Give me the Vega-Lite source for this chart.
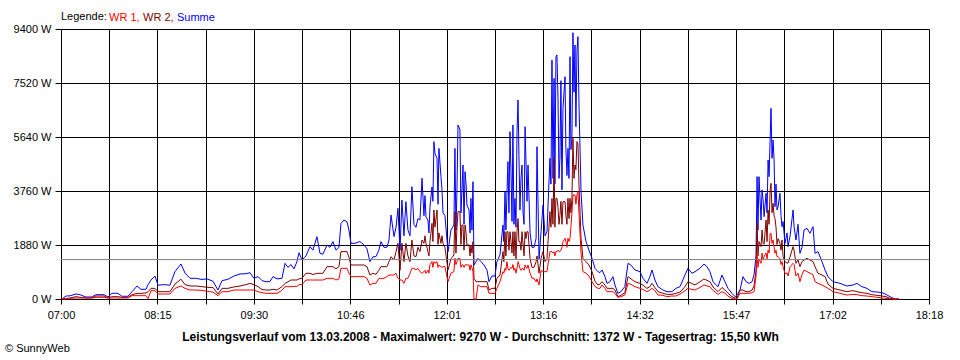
{
"$schema":"https://vega.github.io/schema/vega-lite/v6.json",
"width":868,"height":270,
"autosize":"none",
"padding":{"left":61,"top":29,"right":31,"bottom":61},
"background":"#ffffff",
"title":{"text":"© SunnyWeb","orient":"bottom","anchor":"start","frame":"group","dx":-56,"offset":1,"fontSize":11,"fontWeight":"normal","font":"Liberation Sans","color":"#000000"},
"config":{"view":{"stroke":null},"font":"Liberation Sans"},
"layer":[
{
"data":{"values":[
{"t":0.8,"Summe":0,"WR 2":0,"WR 1":0},
{"t":3.9,"Summe":104,"WR 2":12,"WR 1":0},
{"t":7.0,"Summe":110,"WR 2":35,"WR 1":23},
{"t":11.7,"Summe":174,"WR 2":81,"WR 1":35},
{"t":14.8,"Summe":150,"WR 2":58,"WR 1":35},
{"t":19.5,"Summe":70,"WR 2":35,"WR 1":35},
{"t":24.2,"Summe":70,"WR 2":35,"WR 1":35},
{"t":27.3,"Summe":150,"WR 2":104,"WR 1":58},
{"t":33.6,"Summe":150,"WR 2":104,"WR 1":58},
{"t":36.7,"Summe":70,"WR 2":35,"WR 1":35},
{"t":39.8,"Summe":200,"WR 2":81,"WR 1":35},
{"t":44.5,"Summe":197,"WR 2":81,"WR 1":35},
{"t":47.6,"Summe":95,"WR 2":58,"WR 1":35},
{"t":52.3,"Summe":95,"WR 2":58,"WR 1":35},
{"t":55.5,"Summe":255,"WR 2":150,"WR 1":116},
{"t":59.4,"Summe":450,"WR 2":197,"WR 1":116},
{"t":62.5,"Summe":337,"WR 2":197,"WR 1":116},
{"t":66.4,"Summe":337,"WR 2":210,"WR 1":116},
{"t":68.0,"Summe":500,"WR 2":250,"WR 1":12},
{"t":70.3,"Summe":660,"WR 2":371,"WR 1":290},
{"t":73.4,"Summe":800,"WR 2":371,"WR 1":290},
{"t":75.8,"Summe":480,"WR 2":255,"WR 1":174},
{"t":80.4,"Summe":500,"WR 2":255,"WR 1":174},
{"t":85.1,"Summe":480,"WR 2":255,"WR 1":174},
{"t":89.0,"Summe":950,"WR 2":520,"WR 1":371},
{"t":93.7,"Summe":1220,"WR 2":690,"WR 1":453},
{"t":96.9,"Summe":900,"WR 2":500,"WR 1":370},
{"t":100.8,"Summe":720,"WR 2":453,"WR 1":313},
{"t":105.4,"Summe":720,"WR 2":453,"WR 1":313},
{"t":110.1,"Summe":680,"WR 2":430,"WR 1":300},
{"t":114.0,"Summe":700,"WR 2":406,"WR 1":267},
{"t":118.7,"Summe":620,"WR 2":400,"WR 1":240},
{"t":122.6,"Summe":313,"WR 2":174,"WR 1":116},
{"t":125.8,"Summe":640,"WR 2":371,"WR 1":255},
{"t":130.4,"Summe":685,"WR 2":371,"WR 1":255},
{"t":135.1,"Summe":800,"WR 2":420,"WR 1":313},
{"t":139.8,"Summe":870,"WR 2":453,"WR 1":313},
{"t":144.5,"Summe":880,"WR 2":500,"WR 1":313},
{"t":147.6,"Summe":917,"WR 2":545,"WR 1":313},
{"t":150.7,"Summe":720,"WR 2":500,"WR 1":313},
{"t":153.9,"Summe":780,"WR 2":430,"WR 1":255},
{"t":157.0,"Summe":640,"WR 2":330,"WR 1":220},
{"t":160.1,"Summe":600,"WR 2":313,"WR 1":197},
{"t":163.2,"Summe":610,"WR 2":313,"WR 1":197},
{"t":165.6,"Summe":780,"WR 2":340,"WR 1":197},
{"t":168.7,"Summe":700,"WR 2":313,"WR 1":197},
{"t":172.6,"Summe":720,"WR 2":430,"WR 1":300},
{"t":175.0,"Summe":1240,"WR 2":545,"WR 1":430},
{"t":177.3,"Summe":1100,"WR 2":600,"WR 1":430},
{"t":179.6,"Summe":1200,"WR 2":661,"WR 1":430},
{"t":182.0,"Summe":1050,"WR 2":661,"WR 1":440},
{"t":184.3,"Summe":1300,"WR 2":661,"WR 1":440},
{"t":185.9,"Summe":1610,"WR 2":700,"WR 1":500},
{"t":188.2,"Summe":1358,"WR 2":720,"WR 1":500},
{"t":191.3,"Summe":1500,"WR 2":894,"WR 1":661},
{"t":194.5,"Summe":1822,"WR 2":894,"WR 1":661},
{"t":196.8,"Summe":1700,"WR 2":850,"WR 1":661},
{"t":199.9,"Summe":2170,"WR 2":894,"WR 1":661},
{"t":202.3,"Summe":1590,"WR 2":894,"WR 1":661},
{"t":204.6,"Summe":1560,"WR 2":894,"WR 1":661},
{"t":207.8,"Summe":1880,"WR 2":1126,"WR 1":720},
{"t":210.1,"Summe":1800,"WR 2":1126,"WR 1":720},
{"t":212.4,"Summe":2000,"WR 2":1126,"WR 1":720},
{"t":214.8,"Summe":1700,"WR 2":1050,"WR 1":661},
{"t":217.1,"Summe":1800,"WR 2":1126,"WR 1":700},
{"t":218.7,"Summe":2630,"WR 2":1650,"WR 1":1068},
{"t":221.0,"Summe":2750,"WR 2":1650,"WR 1":1068},
{"t":223.4,"Summe":2690,"WR 2":1650,"WR 1":1068},
{"t":224.9,"Summe":2402,"WR 2":1450,"WR 1":900},
{"t":226.5,"Summe":1938,"WR 2":1184,"WR 1":778},
{"t":229.6,"Summe":1938,"WR 2":1184,"WR 1":778},
{"t":233.5,"Summe":2000,"WR 2":1184,"WR 1":778},
{"t":236.7,"Summe":1880,"WR 2":1184,"WR 1":778},
{"t":239.0,"Summe":1750,"WR 2":1126,"WR 1":720},
{"t":241.3,"Summe":1300,"WR 2":836,"WR 1":487},
{"t":243.7,"Summe":1470,"WR 2":894,"WR 1":545},
{"t":246.0,"Summe":1474,"WR 2":860,"WR 1":545},
{"t":248.3,"Summe":1700,"WR 2":1000,"WR 1":720},
{"t":249.9,"Summe":1996,"WR 2":1126,"WR 1":720},
{"t":252.3,"Summe":1800,"WR 2":1126,"WR 1":720},
{"t":254.6,"Summe":1800,"WR 2":1126,"WR 1":778},
{"t":256.2,"Summe":2054,"WR 2":1300,"WR 1":836},
{"t":257.8,"Summe":2924,"WR 2":1474,"WR 1":836},
{"t":260.1,"Summe":2170,"WR 2":1358,"WR 1":836},
{"t":261.7,"Summe":2500,"WR 2":1650,"WR 1":900},
{"t":263.2,"Summe":3156,"WR 2":1938,"WR 1":720},
{"t":264.8,"Summe":1700,"WR 2":1000,"WR 1":661},
{"t":266.3,"Summe":3447,"WR 2":1938,"WR 1":661},
{"t":267.9,"Summe":2200,"WR 2":1300,"WR 1":545},
{"t":269.4,"Summe":3389,"WR 2":1938,"WR 1":720},
{"t":271.0,"Summe":2400,"WR 2":1500,"WR 1":720},
{"t":272.6,"Summe":2200,"WR 2":1300,"WR 1":890},
{"t":274.1,"Summe":3911,"WR 2":2054,"WR 1":1068},
{"t":275.7,"Summe":2600,"WR 2":1500,"WR 1":1068},
{"t":277.3,"Summe":2500,"WR 2":1474,"WR 1":1010},
{"t":278.8,"Summe":2800,"WR 2":1800,"WR 1":1068},
{"t":280.4,"Summe":2750,"WR 2":1650,"WR 1":950},
{"t":282.0,"Summe":4201,"WR 2":2054,"WR 1":894},
{"t":283.5,"Summe":2900,"WR 2":1938,"WR 1":950},
{"t":284.3,"Summe":3600,"WR 2":2200,"WR 1":1000},
{"t":285.1,"Summe":2850,"WR 2":1938,"WR 1":894},
{"t":286.6,"Summe":2750,"WR 2":1650,"WR 1":1010},
{"t":287.4,"Summe":2300,"WR 2":1500,"WR 1":900},
{"t":288.2,"Summe":3200,"WR 2":2000,"WR 1":1200},
{"t":289.8,"Summe":3900,"WR 2":2634,"WR 1":1300},
{"t":290.5,"Summe":3400,"WR 2":2000,"WR 1":1100},
{"t":291.3,"Summe":5478,"WR 2":3098,"WR 1":1300},
{"t":292.1,"Summe":5071,"WR 2":2500,"WR 1":1242},
{"t":293.7,"Summe":4897,"WR 2":3098,"WR 1":1300},
{"t":294.5,"Summe":3300,"WR 2":1900,"WR 1":1100},
{"t":295.2,"Summe":5245,"WR 2":2300,"WR 1":1184},
{"t":296.8,"Summe":4259,"WR 2":1938,"WR 1":1126},
{"t":297.6,"Summe":3800,"WR 2":2200,"WR 1":1100},
{"t":298.4,"Summe":3000,"WR 2":1938,"WR 1":1126},
{"t":299.9,"Summe":2900,"WR 2":1800,"WR 1":1126},
{"t":302.3,"Summe":1648,"WR 2":1010,"WR 1":603},
{"t":304.6,"Summe":2400,"WR 2":1400,"WR 1":900},
{"t":306.9,"Summe":2576,"WR 2":1532,"WR 1":952},
{"t":307.7,"Summe":5245,"WR 2":3041,"WR 1":1416},
{"t":308.5,"Summe":2400,"WR 2":1600,"WR 1":1200},
{"t":309.3,"Summe":3800,"WR 2":2500,"WR 1":1300},
{"t":310.1,"Summe":6058,"WR 2":3041,"WR 1":1416},
{"t":311.6,"Summe":5900,"WR 2":3041,"WR 1":1416},
{"t":312.4,"Summe":3000,"WR 2":1900,"WR 1":1100},
{"t":313.2,"Summe":3800,"WR 2":2576,"WR 1":1184},
{"t":314.0,"Summe":4665,"WR 2":2576,"WR 1":1184},
{"t":314.8,"Summe":2600,"WR 2":1700,"WR 1":1100},
{"t":315.6,"Summe":4433,"WR 2":2576,"WR 1":1184},
{"t":316.4,"Summe":4000,"WR 2":2300,"WR 1":1200},
{"t":317.1,"Summe":3273,"WR 2":1880,"WR 1":1184},
{"t":318.7,"Summe":3100,"WR 2":1880,"WR 1":1184},
{"t":319.5,"Summe":2300,"WR 2":1500,"WR 1":1000},
{"t":320.2,"Summe":3505,"WR 2":1880,"WR 1":1184},
{"t":321.0,"Summe":2400,"WR 2":1600,"WR 1":1100},
{"t":321.8,"Summe":4085,"WR 2":1996,"WR 1":952},
{"t":322.6,"Summe":1184,"WR 2":720,"WR 1":0},
{"t":324.2,"Summe":1300,"WR 2":603,"WR 1":0},
{"t":325.7,"Summe":1416,"WR 2":603,"WR 1":487},
{"t":328.1,"Summe":1300,"WR 2":603,"WR 1":429},
{"t":330.4,"Summe":1184,"WR 2":603,"WR 1":429},
{"t":332.8,"Summe":1000,"WR 2":603,"WR 1":429},
{"t":334.3,"Summe":603,"WR 2":313,"WR 1":197},
{"t":336.6,"Summe":800,"WR 2":371,"WR 1":197},
{"t":339.0,"Summe":800,"WR 2":371,"WR 1":197},
{"t":340.5,"Summe":1300,"WR 2":720,"WR 1":371},
{"t":342.9,"Summe":1532,"WR 2":836,"WR 1":603},
{"t":345.2,"Summe":2576,"WR 2":1648,"WR 1":952},
{"t":345.9,"Summe":2000,"WR 2":1300,"WR 1":900},
{"t":346.8,"Summe":3737,"WR 2":2344,"WR 1":1068},
{"t":347.5,"Summe":2400,"WR 2":1500,"WR 1":1000},
{"t":348.3,"Summe":3600,"WR 2":2344,"WR 1":1300},
{"t":349.1,"Summe":4781,"WR 2":2344,"WR 1":1068},
{"t":349.9,"Summe":3000,"WR 2":1700,"WR 1":1000},
{"t":350.7,"Summe":5826,"WR 2":2344,"WR 1":1068},
{"t":351.5,"Summe":4400,"WR 2":2000,"WR 1":1100},
{"t":352.3,"Summe":2700,"WR 2":1600,"WR 1":1068},
{"t":353.0,"Summe":6058,"WR 2":2344,"WR 1":1200},
{"t":353.8,"Summe":2600,"WR 2":1500,"WR 1":1000},
{"t":354.6,"Summe":3500,"WR 2":2344,"WR 1":1068},
{"t":355.4,"Summe":2500,"WR 2":1400,"WR 1":900},
{"t":356.2,"Summe":5826,"WR 2":2344,"WR 1":1068},
{"t":357.0,"Summe":6928,"WR 2":2800,"WR 1":1300},
{"t":357.7,"Summe":5000,"WR 2":2000,"WR 1":1200},
{"t":358.5,"Summe":3100,"WR 2":2000,"WR 1":1068},
{"t":359.3,"Summe":4200,"WR 2":1700,"WR 1":1000},
{"t":360.1,"Summe":4665,"WR 2":2344,"WR 1":1068},
{"t":360.9,"Summe":3000,"WR 2":1900,"WR 1":1068},
{"t":361.7,"Summe":2600,"WR 2":1500,"WR 1":1000},
{"t":362.5,"Summe":6000,"WR 2":2344,"WR 1":1184},
{"t":363.2,"Summe":4800,"WR 2":2100,"WR 1":1100},
{"t":364.0,"Summe":3400,"WR 2":2344,"WR 1":1068},
{"t":364.8,"Summe":4665,"WR 2":2344,"WR 1":1184},
{"t":366.4,"Summe":2300,"WR 2":1416,"WR 1":900},
{"t":367.9,"Summe":1800,"WR 2":1100,"WR 1":720},
{"t":369.5,"Summe":1800,"WR 2":1100,"WR 1":720},
{"t":371.1,"Summe":2112,"WR 2":1300,"WR 1":600},
{"t":371.8,"Summe":5303,"WR 2":1500,"WR 1":700},
{"t":373.4,"Summe":1400,"WR 2":900,"WR 1":487},
{"t":375.0,"Summe":2344,"WR 2":1416,"WR 1":1000},
{"t":376.5,"Summe":3273,"WR 2":1648,"WR 1":952},
{"t":378.1,"Summe":2200,"WR 2":1300,"WR 1":952},
{"t":379.6,"Summe":2344,"WR 2":1416,"WR 1":952},
{"t":381.9,"Summe":4897,"WR 2":3041,"WR 1":1648},
{"t":382.7,"Summe":4000,"WR 2":2500,"WR 1":1648},
{"t":383.5,"Summe":8321,"WR 2":3500,"WR 1":1648},
{"t":384.3,"Summe":4200,"WR 2":2600,"WR 1":1600},
{"t":385.1,"Summe":7683,"WR 2":4897,"WR 1":1648},
{"t":385.8,"Summe":4000,"WR 2":2500,"WR 1":1500},
{"t":386.6,"Summe":8437,"WR 2":3505,"WR 1":1648},
{"t":387.4,"Summe":8495,"WR 2":3505,"WR 1":1648},
{"t":388.2,"Summe":7000,"WR 2":3200,"WR 1":1700},
{"t":389.0,"Summe":4200,"WR 2":2600,"WR 1":1648},
{"t":389.7,"Summe":4897,"WR 2":2900,"WR 1":1648},
{"t":390.5,"Summe":7600,"WR 2":3400,"WR 1":1700},
{"t":391.3,"Summe":3800,"WR 2":2600,"WR 1":1800},
{"t":392.1,"Summe":6638,"WR 2":3389,"WR 1":2000},
{"t":393.7,"Summe":7740,"WR 2":3389,"WR 1":2112},
{"t":394.4,"Summe":5200,"WR 2":2900,"WR 1":2000},
{"t":395.2,"Summe":4300,"WR 2":2600,"WR 1":1800},
{"t":396.0,"Summe":5245,"WR 2":3505,"WR 1":2112},
{"t":396.8,"Summe":4200,"WR 2":2800,"WR 1":2000},
{"t":397.6,"Summe":8437,"WR 2":3505,"WR 1":2112},
{"t":398.3,"Summe":5200,"WR 2":3000,"WR 1":2500},
{"t":399.1,"Summe":5600,"WR 2":3505,"WR 1":3000},
{"t":399.9,"Summe":9270,"WR 2":5594,"WR 1":3621},
{"t":400.7,"Summe":7200,"WR 2":4200,"WR 1":3621},
{"t":401.5,"Summe":8843,"WR 2":4665,"WR 1":3621},
{"t":402.2,"Summe":6000,"WR 2":4500,"WR 1":3300},
{"t":403.0,"Summe":8611,"WR 2":5478,"WR 1":3621},
{"t":403.8,"Summe":9133,"WR 2":5400,"WR 1":3737},
{"t":404.6,"Summe":6800,"WR 2":4000,"WR 1":3000},
{"t":406.2,"Summe":3737,"WR 2":2112,"WR 1":1600},
{"t":407.7,"Summe":2576,"WR 2":1416,"WR 1":952},
{"t":410.1,"Summe":1996,"WR 2":1300,"WR 1":900},
{"t":412.4,"Summe":1700,"WR 2":1184,"WR 1":800},
{"t":414.8,"Summe":1416,"WR 2":952,"WR 1":603},
{"t":417.1,"Summe":1068,"WR 2":620,"WR 1":440},
{"t":419.4,"Summe":952,"WR 2":487,"WR 1":371},
{"t":421.0,"Summe":920,"WR 2":520,"WR 1":371},
{"t":422.6,"Summe":1010,"WR 2":603,"WR 1":487},
{"t":424.9,"Summe":778,"WR 2":487,"WR 1":371},
{"t":426.5,"Summe":545,"WR 2":371,"WR 1":255},
{"t":428.8,"Summe":603,"WR 2":371,"WR 1":255},
{"t":431.1,"Summe":778,"WR 2":371,"WR 1":255},
{"t":432.7,"Summe":487,"WR 2":313,"WR 1":200},
{"t":435.0,"Summe":197,"WR 2":81,"WR 1":58},
{"t":437.3,"Summe":255,"WR 2":128,"WR 1":81},
{"t":440.4,"Summe":429,"WR 2":220,"WR 1":139},
{"t":442.9,"Summe":1242,"WR 2":778,"WR 1":545},
{"t":445.2,"Summe":1180,"WR 2":700,"WR 1":510},
{"t":448.3,"Summe":1010,"WR 2":603,"WR 1":429},
{"t":452.2,"Summe":952,"WR 2":545,"WR 1":371},
{"t":454.6,"Summe":720,"WR 2":480,"WR 1":330},
{"t":457.7,"Summe":545,"WR 2":371,"WR 1":255},
{"t":460.0,"Summe":778,"WR 2":430,"WR 1":313},
{"t":461.6,"Summe":1010,"WR 2":545,"WR 1":371},
{"t":463.9,"Summe":661,"WR 2":400,"WR 1":290},
{"t":466.3,"Summe":429,"WR 2":255,"WR 1":139},
{"t":470.2,"Summe":313,"WR 2":200,"WR 1":128},
{"t":473.3,"Summe":255,"WR 2":162,"WR 1":81},
{"t":477.2,"Summe":255,"WR 2":162,"WR 1":104},
{"t":480.3,"Summe":371,"WR 2":197,"WR 1":104},
{"t":483.5,"Summe":429,"WR 2":240,"WR 1":170},
{"t":487.4,"Summe":836,"WR 2":429,"WR 1":290},
{"t":489.7,"Summe":1068,"WR 2":603,"WR 1":371},
{"t":492.8,"Summe":894,"WR 2":540,"WR 1":330},
{"t":495.2,"Summe":952,"WR 2":487,"WR 1":313},
{"t":499.1,"Summe":1068,"WR 2":600,"WR 1":400},
{"t":502.2,"Summe":1219,"WR 2":696,"WR 1":487},
{"t":504.6,"Summe":1126,"WR 2":650,"WR 1":453},
{"t":506.9,"Summe":952,"WR 2":603,"WR 1":429},
{"t":509.3,"Summe":600,"WR 2":420,"WR 1":300},
{"t":513.2,"Summe":430,"WR 2":255,"WR 1":162},
{"t":516.3,"Summe":836,"WR 2":400,"WR 1":255},
{"t":518.6,"Summe":603,"WR 2":313,"WR 1":200},
{"t":521.0,"Summe":371,"WR 2":200,"WR 1":100},
{"t":524.1,"Summe":197,"WR 2":81,"WR 1":23},
{"t":526.5,"Summe":81,"WR 2":35,"WR 1":0},
{"t":528.0,"Summe":139,"WR 2":23,"WR 1":0},
{"t":530.4,"Summe":313,"WR 2":313,"WR 1":197},
{"t":532.7,"Summe":778,"WR 2":313,"WR 1":197},
{"t":535.1,"Summe":603,"WR 2":255,"WR 1":197},
{"t":537.4,"Summe":545,"WR 2":255,"WR 1":197},
{"t":539.8,"Summe":603,"WR 2":313,"WR 1":220},
{"t":541.3,"Summe":836,"WR 2":453,"WR 1":255},
{"t":542.9,"Summe":1500,"WR 2":1000,"WR 1":800},
{"t":543.7,"Summe":4259,"WR 2":2634,"WR 1":1590},
{"t":544.4,"Summe":2400,"WR 2":1500,"WR 1":1100},
{"t":545.2,"Summe":4259,"WR 2":2000,"WR 1":1400},
{"t":546.8,"Summe":2750,"WR 2":1822,"WR 1":1240},
{"t":547.6,"Summe":3800,"WR 2":2400,"WR 1":1600},
{"t":548.4,"Summe":3447,"WR 2":1938,"WR 1":1358},
{"t":549.2,"Summe":2866,"WR 2":1900,"WR 1":1474},
{"t":550.7,"Summe":3679,"WR 2":2750,"WR 1":1600},
{"t":551.5,"Summe":3000,"WR 2":2000,"WR 1":1400},
{"t":552.3,"Summe":4839,"WR 2":3098,"WR 1":1706},
{"t":553.1,"Summe":4259,"WR 2":2600,"WR 1":1600},
{"t":553.9,"Summe":5536,"WR 2":3800,"WR 1":2286},
{"t":554.6,"Summe":6638,"WR 2":4027,"WR 1":2286},
{"t":555.4,"Summe":4897,"WR 2":3000,"WR 1":1938},
{"t":556.2,"Summe":5536,"WR 2":3331,"WR 1":2054},
{"t":557.0,"Summe":4839,"WR 2":2900,"WR 1":1822},
{"t":557.7,"Summe":3215,"WR 2":2800,"WR 1":1590},
{"t":558.5,"Summe":4000,"WR 2":2500,"WR 1":1700},
{"t":559.3,"Summe":3098,"WR 2":1900,"WR 1":1474},
{"t":560.1,"Summe":3200,"WR 2":2100,"WR 1":1474},
{"t":561.6,"Summe":3679,"WR 2":1938,"WR 1":1400},
{"t":562.4,"Summe":2900,"WR 2":1700,"WR 1":1200},
{"t":563.2,"Summe":2518,"WR 2":2054,"WR 1":1300},
{"t":564.0,"Summe":2700,"WR 2":1474,"WR 1":1126},
{"t":565.5,"Summe":1938,"WR 2":1300,"WR 1":890},
{"t":567.1,"Summe":2300,"WR 2":1250,"WR 1":900},
{"t":567.9,"Summe":1822,"WR 2":1250,"WR 1":800},
{"t":569.5,"Summe":2200,"WR 2":1474,"WR 1":1126},
{"t":571.8,"Summe":3098,"WR 2":1822,"WR 1":1242},
{"t":572.6,"Summe":2518,"WR 2":1700,"WR 1":1200},
{"t":574.1,"Summe":2054,"WR 2":1242,"WR 1":800},
{"t":575.7,"Summe":2600,"WR 2":1358,"WR 1":900},
{"t":577.2,"Summe":1590,"WR 2":1126,"WR 1":603},
{"t":578.8,"Summe":1800,"WR 2":1300,"WR 1":850},
{"t":580.4,"Summe":2402,"WR 2":1358,"WR 1":1010},
{"t":582.7,"Summe":2460,"WR 2":1416,"WR 1":952},
{"t":585.0,"Summe":2286,"WR 2":1358,"WR 1":900},
{"t":587.4,"Summe":2518,"WR 2":1300,"WR 1":850},
{"t":589.0,"Summe":1590,"WR 2":1126,"WR 1":603},
{"t":591.3,"Summe":1650,"WR 2":894,"WR 1":545},
{"t":594.4,"Summe":1300,"WR 2":836,"WR 1":487},
{"t":596.8,"Summe":1010,"WR 2":778,"WR 1":430},
{"t":599.1,"Summe":778,"WR 2":520,"WR 1":371},
{"t":603.0,"Summe":603,"WR 2":371,"WR 1":255},
{"t":608.5,"Summe":545,"WR 2":313,"WR 1":197},
{"t":613.9,"Summe":453,"WR 2":255,"WR 1":139},
{"t":618.6,"Summe":487,"WR 2":290,"WR 1":162},
{"t":621.7,"Summe":545,"WR 2":255,"WR 1":150},
{"t":625.6,"Summe":429,"WR 2":220,"WR 1":116},
{"t":629.5,"Summe":371,"WR 2":197,"WR 1":104},
{"t":633.4,"Summe":255,"WR 2":150,"WR 1":80},
{"t":637.3,"Summe":244,"WR 2":128,"WR 1":58},
{"t":641.3,"Summe":220,"WR 2":104,"WR 1":35},
{"t":644.4,"Summe":162,"WR 2":81,"WR 1":23},
{"t":647.5,"Summe":81,"WR 2":23,"WR 1":10},
{"t":651.4,"Summe":0,"WR 2":0,"WR 1":0},
{"t":654.5,"Summe":0,"WR 2":0,"WR 1":0}
]},
"transform":[{"fold":["Summe","WR 2","WR 1"]}],
"encoding":{
"x":{"field":"t","type":"quantitative","scale":{"domain":[0,678],"nice":false,"zero":false},
"axis":{"values":[0,37.6667,75.3333,113,150.6667,188.3333,226,263.6667,301.3333,339,376.6667,414.3333,452,489.6667,527.3333,565,602.6667,640.3333,678],
"labelExpr":"round(datum.value/37.6667)%2==0 ? format(floor((420+datum.value+0.001)/60),'02d') + ':' + format(floor(420+datum.value+0.001)%60,'02d') : ''",
"labelOverlap":false,"labelFlush":false,"grid":true,"gridColor":"#000000","gridOpacity":1,"gridWidth":1,"tickColor":"#000000","tickSize":5,"tickWidth":1,"domain":false,
"labelColor":"#000000","labelFont":"Liberation Sans","labelFontSize":11,"labelPadding":5,
"title":"Leistungsverlauf vom 13.03.2008 - Maximalwert: 9270 W - Durchschnitt: 1372 W - Tagesertrag: 15,50 kWh",
"titleFont":"Liberation Sans","titleFontSize":12,"titleFontWeight":"bold","titleColor":"#000000","titlePadding":11,"titleX":419}},
"y":{"field":"value","type":"quantitative","scale":{"domain":[0,9400],"nice":false,"zero":true},
"axis":{"values":[0,1880,3760,5640,7520,9400],"labelExpr":"datum.value + ' W'","grid":true,"gridColor":"#000000","gridOpacity":1,"gridWidth":1,"tickColor":"#000000","tickSize":6,"domain":false,"labelColor":"#000000","labelFont":"Liberation Sans","labelFontSize":11,"labelPadding":4,"title":null}},
"color":{"field":"key","type":"nominal","scale":{"domain":["WR 1","WR 2","Summe"],"range":["#ff0000","#800000","#0000ff"]},
"legend":{"title":"Legende:","orient":"none","legendX":0,"legendY":-17,"direction":"horizontal","titleOrient":"left","titleFontWeight":"normal","titleFontSize":11,"titleFont":"Liberation Sans","titleColor":"#000000","titlePadding":3,"labelFont":"Liberation Sans","labelFontSize":11,"symbolType":"circle","symbolSize":0,"symbolStrokeWidth":0,"symbolOpacity":0,"labelOffset":-12,"columnPadding":3,
"labelExpr":"datum.label == 'Summe' ? datum.label : datum.label + ','",
"encode":{"labels":{"update":{"fill":{"scale":"color","field":"value"}}}}}}
},
"layer":[
{"transform":[{"filter":"datum.key == 'Summe'"}],"mark":{"type":"line","strokeWidth":1}},
{"transform":[{"filter":"datum.key == 'WR 2'"}],"mark":{"type":"line","strokeWidth":1}},
{"transform":[{"filter":"datum.key == 'WR 1'"}],"mark":{"type":"line","strokeWidth":1}}
]
},
{
"data":{"values":[{"Durchschnitt":1372}]},
"mark":{"type":"rule","color":"#808080","strokeWidth":1},
"encoding":{"y":{"field":"Durchschnitt","type":"quantitative","scale":{"domain":[0,9400],"nice":false,"zero":true},
"axis":{"values":[0,1880,3760,5640,7520,9400],"labelExpr":"datum.value + ' W'","grid":true,"gridColor":"#000000","gridOpacity":1,"gridWidth":1,"tickColor":"#000000","tickSize":6,"domain":false,"labelColor":"#000000","labelFont":"Liberation Sans","labelFontSize":11,"labelPadding":4,"title":null}}}
}
]
}
